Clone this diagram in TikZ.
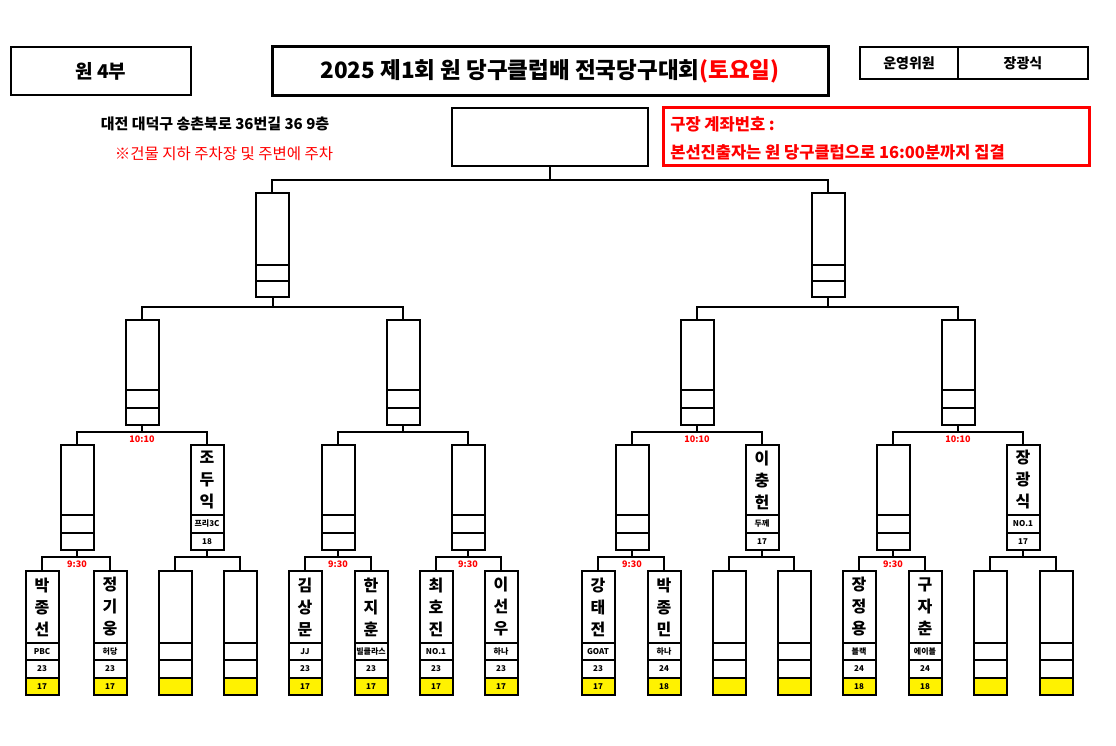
\documentclass[tikz,border=0pt]{standalone}
\usepackage{fontspec}
\setmainfont{Noto Sans CJK KR}
\begin{document}
\begin{tikzpicture}[x=1pt,y=-1pt,line width=2pt,
  tm/.style={red,font=\bfseries\fontsize{9}{10}\selectfont},
  nm/.style={font=\bfseries\fontsize{16}{22}\selectfont,align=center},
  sm/.style={font=\bfseries\fontsize{8}{9}\selectfont}]
\useasboundingbox[fill=white] (0,0) rectangle (1116,746);
% header
\node[draw,minimum width=180,minimum height=48,font=\bfseries\fontsize{19}{22}\selectfont] (h1) at (101,71) {원 4부};
\node[draw,line width=3pt,minimum width=556,minimum height=49,font=\bfseries\fontsize{22.5}{26}\selectfont] (h2) at (550,71.5) {2025 제1회 원 당구클럽배 전국당구대회\textcolor{red}{(토요일)}};
\node[draw,minimum width=98,minimum height=32,font=\bfseries\fontsize{14}{16}\selectfont] (h3) at (909,63) {운영위원};
\node[draw,minimum width=130,minimum height=32,font=\bfseries\fontsize{14}{16}\selectfont] (h4) at (1023,63) {장광식};
\node[font=\bfseries\fontsize{15}{17}\selectfont] (ad) at (215,124) {대전 대덕구 송촌북로 36번길 36 9층};
\node[red,font=\fontsize{15.5}{17}\selectfont] (nt) at (224,154) {※건물 지하 주차장 및 주변에 주차};
\node[draw,minimum width=196,minimum height=58] (fin) at (550,137) {};
\draw[red,line width=3pt] (663,108) rectangle (1089,166);
\node[red,anchor=west,font=\bfseries\fontsize{16.5}{18}\selectfont] (r1) at (666,124) {구장 계좌번호 :};
\node[red,anchor=west,font=\bfseries\fontsize{16.5}{18}\selectfont] (r2) at (666,152) {본선진출자는 원 당구클럽으로 16:00분까지 집결};
\newcommand{\bbox}[5]{\draw (#1-16.5,#2) rectangle (#1+16.5,#5); \draw (#1-16.5,#3)--(#1+16.5,#3); \draw (#1-16.5,#4)--(#1+16.5,#4);}
% level 1
\draw (fin.south) -- (550,180); \draw (272,193)--(272,180)--(828,180)--(828,193);
\foreach \c in {272,828}{\bbox{\c}{193}{265}{281}{297}}
% level 2
\foreach \a/\b in {142/403,697/958}{
  \draw (\a,320)--(\a,307)--(\b,307)--(\b,320);
  \draw ({(\a+\b)/2},297)--({(\a+\b)/2},307);
  \bbox{\a}{320}{390}{408}{425} \bbox{\b}{320}{390}{408}{425}}
% level 3
\foreach \p/\a/\b in {142/77/207,403/338/468,697/632/762,958/893/1023}{
  \draw (\p,425)--(\p,432); \draw (\a,445)--(\a,432)--(\b,432)--(\b,445);
  \bbox{\a}{445}{515}{533}{550} \bbox{\b}{445}{515}{533}{550}}
\foreach \x in {142,697,958}{\node[tm] at (\x,439) {10:10};}
% level 4
\foreach \p/\a/\b in {77/42/110,207/175/240,338/305/371,468/436/501,632/598/664,762/729/794,893/859/925,1023/990/1056}{
  \draw (\p,550)--(\p,557); \draw (\a,571)--(\a,557)--(\b,557)--(\b,571);
  \foreach \q in {\a,\b}{
   \fill[yellow] (\q-16.5,678) rectangle (\q+16.5,695);
   \draw (\q-16.5,571) rectangle (\q+16.5,695);
   \draw (\q-16.5,643)--(\q+16.5,643); \draw (\q-16.5,660)--(\q+16.5,660); \draw (\q-16.5,678)--(\q+16.5,678);}}
\foreach \x in {77,338,468,632,893}{\node[tm] at (\x,564) {9:30};}
% level 3 names
\foreach \x/\n/\c/\s in {207/조\\두\\익/프리3C/18,762/이\\충\\헌/두께/17,1023/장\\광\\식/NO.1/17}{
  \node[nm] at (\x,480) {\n}; \node[sm] at (\x,524) {\c}; \node[sm] at (\x,541.5) {\s};}
% level 4 names
\foreach \x/\n/\c/\s/\t in {42/박\\종\\선/PBC/23/17,110/정\\기\\웅/허당/23/17,305/김\\상\\문/JJ/23/17,371/한\\지\\훈/빌클라스/23/17,436/최\\호\\진/NO.1/23/17,501/이\\선\\우/하나/23/17,598/강\\태\\전/GOAT/23/17,664/박\\종\\민/하나/24/18,859/장\\정\\용/블랙/24/18,925/구\\자\\춘/에이블/24/18}{
  \node[nm] at (\x,607) {\n}; \node[sm] at (\x,651.5) {\c}; \node[sm] at (\x,669) {\s}; \node[sm] at (\x,686.5) {\t};}
\end{tikzpicture}
\end{document}
